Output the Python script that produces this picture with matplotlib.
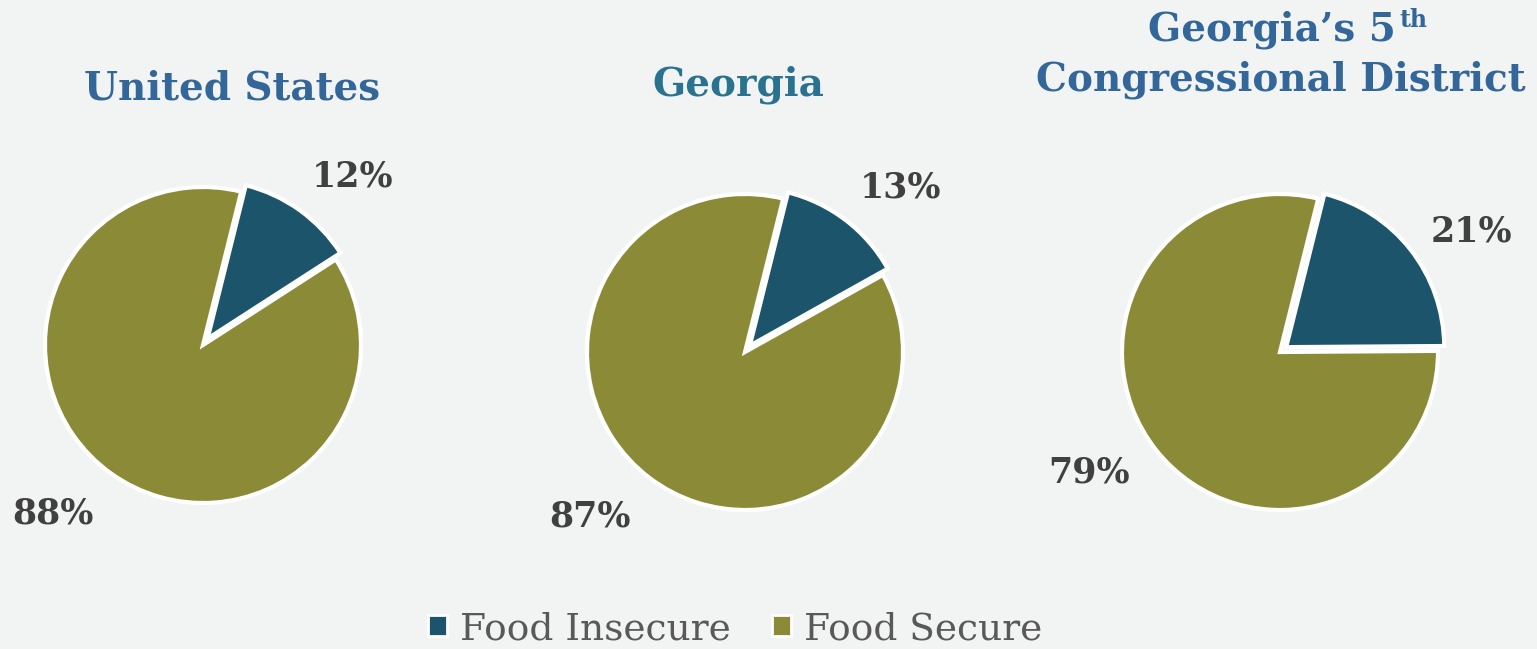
"""
Food insecurity share: United States vs Georgia vs Georgia's 5th Congressional District.
"""
import numpy as np
import matplotlib.pyplot as plt
from matplotlib.patches import Patch

# Data
regions = ["United States", "Georgia", "Georgia's 5th Congressional District"]
categories = ["Food Insecure", "Food Secure"]
insecure = [12, 13, 21]
secure = [88, 87, 79]

# Styling
bg = "#f2f4f3"
colors = ["#1c546b", "#8b8b37"]
title_colors = ["#33679a", "#2a7390", "#33679a"]
serif = ["DejaVu Serif"]

W, H = 1537, 649
fig = plt.figure(figsize=(W / 100, H / 100), dpi=100, facecolor=bg)

# pie centers / radius in pixels
centers = [(203, 345), (745, 352), (1280, 352)]
R = 158
L = 1.6

for i in range(3):
    cx, cy = centers[i]
    half = L * R
    ax = fig.add_axes([(cx - half) / W, (H - cy - half) / H, 2 * half / W, 2 * half / H])
    ax.set_facecolor("none")
    wedges, texts, autotexts = ax.pie(
        [insecure[i], secure[i]], colors=colors, startangle=76, counterclock=False,
        explode=[0.05, 0], autopct="%d%%", pctdistance=1.4,
        wedgeprops=dict(edgecolor="white", linewidth=3),
        textprops=dict(fontsize=25, fontweight="bold", color="#404040", family=serif))
    # nudge labels a bit clockwise, like the original's best-fit placement
    for t in autotexts:
        x, y = t.get_position()
        ang = np.arctan2(y, x) - np.radians(6)
        t.set_position((1.43 * np.cos(ang), 1.43 * np.sin(ang)))
    ax.set_xlim(-L, L)
    ax.set_ylim(-L, L)
    ax.set_aspect("equal")
    ax.axis("off")

# Titles
tkw = dict(ha="center", va="center", fontsize=28, fontweight="bold", family=serif)
fig.text(232 / W, 1 - 88 / H, regions[0], color=title_colors[0], **tkw)
fig.text(738 / W, 1 - 85 / H, regions[1], color=title_colors[1], **tkw)
t1 = fig.text(1272 / W, 1 - 30 / H, "Georgia\u2019s 5", color=title_colors[2], **tkw)
fig.text(1281 / W, 1 - 80 / H, "Congressional District", color=title_colors[2], **tkw)

fig.canvas.draw()
bb = t1.get_window_extent()
fig.text((bb.x1 + 3) / W, 1 - 20 / H, "th", ha="left", va="center", fontsize=17,
         fontweight="bold", color=title_colors[2], family=serif)

# Legend
handles = [Patch(facecolor=c, edgecolor="white", linewidth=2) for c in colors]
fig.legend(handles, categories, loc="center", bbox_to_anchor=(735 / W, 1 - 629 / H),
           ncol=2, frameon=False, handlelength=0.5, handleheight=0.5, handletextpad=0.35,
           columnspacing=1.1, prop=dict(family=serif, size=27), labelcolor="#595959")

fig.savefig("out.png", dpi=100, facecolor=bg)
